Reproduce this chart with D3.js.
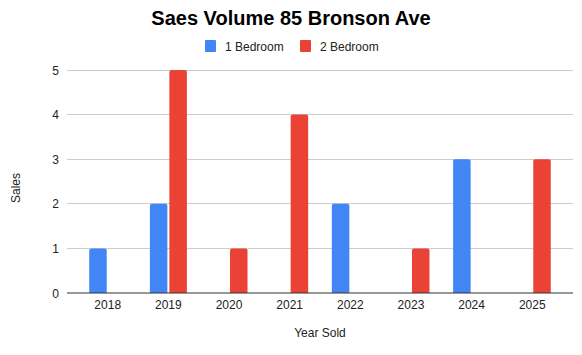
<!DOCTYPE html>
<html><head><meta charset="utf-8">
<script src="https://cdn.jsdelivr.net/npm/d3@7"></script>
<style>body{margin:0;background:#fff}text{font-family:Arial,"Liberation Sans",sans-serif}</style>
</head><body><svg id="c" width="582" height="355"></svg>
<script>
const years = ["2018","2019","2020","2021","2022","2023","2024","2025"];
const seriesNames = ["1 Bedroom","2 Bedroom"];
const oneBedroom = [1,2,0,0,2,0,3,0];
const twoBedroom = [0,5,1,4,0,1,0,3];
const yTicks = [0,1,2,3,4,5];
const colors = ["#4285F4","#EA4335"];

const svg = d3.select("#c");
const gridL = 67, gridR = 573;
const x = d3.scaleBand().domain(years).range([77.4, 562.6]);
const y = d3.scaleLinear().domain([0,5]).range([293, 70]);

// gridlines
svg.append("g").selectAll("line").data(yTicks.filter(d=>d>0)).join("line")
  .attr("x1",gridL).attr("x2",gridR).attr("y1",d=>y(d)).attr("y2",d=>y(d))
  .attr("stroke","#cccccc").attr("stroke-width",1).attr("shape-rendering","crispEdges");

// y tick labels
svg.append("g").selectAll("text").data(yTicks).join("text")
  .attr("x",59).attr("y",d=>y(d)+4.5).attr("text-anchor","end")
  .attr("font-size",12).attr("fill","#222").text(d=>d);

// bars
const bw = 17.5, gap = 1;
function barPath(x0, y0, w, h, r){
  if(h<=0) return "";
  r = Math.min(r, h, w/2);
  return `M${x0},${y0+h}V${y0+r}Q${x0},${y0} ${x0+r},${y0}H${x0+w-r}Q${x0+w},${y0} ${x0+w},${y0+r}V${y0+h}Z`;
}
const series = [oneBedroom, twoBedroom];
series.forEach((vals, si) => {
  svg.append("g").selectAll("path").data(years.map((yr,i)=>({yr, v: vals[i]})).filter(d=>d.v>0)).join("path")
    .attr("fill", colors[si])
    .attr("d", d => {
      const c = x(d.yr) + x.bandwidth()/2;
      const x0 = si===0 ? c - gap - bw : c + gap;
      return barPath(x0, y(d.v), bw, y(0)-y(d.v), 2);
    });
});

// baseline
svg.append("line").attr("x1",gridL).attr("x2",gridR).attr("y1",293).attr("y2",293)
  .attr("stroke","#333").attr("stroke-width",1.2);

// x tick labels
svg.append("g").selectAll("text").data(years).join("text")
  .attr("x",d=>x(d)+x.bandwidth()/2).attr("y",309).attr("text-anchor","middle")
  .attr("font-size",12).attr("fill","#222").text(d=>d);

// axis titles
svg.append("text").attr("x",320).attr("y",337).attr("text-anchor","middle")
  .attr("font-size",12).attr("fill","#222").text("Year Sold");
svg.append("text").attr("transform","translate(20,188) rotate(-90)").attr("text-anchor","middle")
  .attr("font-size",12).attr("fill","#222").text("Sales");

// title
svg.append("text").attr("x",291).attr("y",25).attr("text-anchor","middle")
  .attr("font-size",20).attr("font-weight","bold").attr("fill","#000").text("Saes Volume 85 Bronson Ave");

// legend
const legX = [205, 300];
seriesNames.forEach((n,i)=>{
  svg.append("rect").attr("x",legX[i]).attr("y",40).attr("width",11).attr("height",12)
    .attr("rx",1).attr("fill",colors[i]);
  svg.append("text").attr("x",legX[i]+20).attr("y",50.5).attr("font-size",12).attr("fill","#222").text(n);
});
</script></body></html>
